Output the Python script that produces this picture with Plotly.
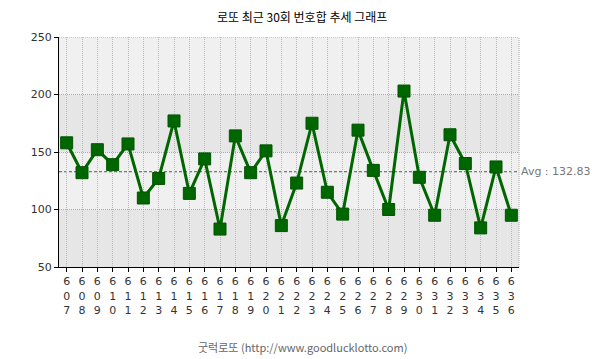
import plotly.graph_objects as go

rounds = [str(r) for r in range(607, 637)]
sums = [158, 132, 152, 139, 157, 110, 127, 177, 114, 144, 83, 164, 132, 151, 86,
        123, 175, 115, 96, 169, 134, 100, 203, 128, 95, 165, 140, 84, 137, 95]
avg = sum(sums) / len(sums)
title = "로또 최근 30회 번호합 추세 그래프"
footer = "굿럭로또 (http://www.goodlucklotto.com)"
yticks = [50, 100, 150, 200, 250]

xs = list(range(len(rounds)))
ticktext = ["<br>".join(list(r)) for r in rounds]

fig = go.Figure()
fig.add_trace(go.Scatter(
    x=xs, y=sums, mode="lines+markers",
    line=dict(color="#006600", width=3),
    marker=dict(symbol="square", size=12, color="#006600", line=dict(color="#005500", width=1)),
    hoverinfo="skip", showlegend=False,
))

shapes = []
band_colors = ["#e6e6e6", "#f0f0f0", "#e6e6e6", "#f0f0f0"]
for i in range(4):
    shapes.append(dict(type="rect", xref="paper", yref="y", x0=0, x1=1,
                       y0=yticks[i], y1=yticks[i + 1], fillcolor=band_colors[i],
                       line=dict(width=0), layer="below"))
shapes.append(dict(type="line", xref="paper", yref="y", x0=0, x1=1, y0=250, y1=250,
                   line=dict(color="#aaaaaa", width=1, dash="1px,1px")))
shapes.append(dict(type="line", xref="paper", yref="paper", x0=1, x1=1, y0=0, y1=1,
                   line=dict(color="#aaaaaa", width=1, dash="1px,1px")))
shapes.append(dict(type="line", xref="paper", yref="y", x0=0, x1=1, y0=avg, y1=avg,
                   line=dict(color="#555555", width=1, dash="3px,2px"), layer="below"))

fig.update_layout(
    width=605, height=359,
    margin=dict(l=59, r=86, t=37, b=92),
    paper_bgcolor="white", plot_bgcolor="white",
    font=dict(family="DejaVu Sans, Noto Sans CJK KR", size=11, color="#333333"),
    shapes=shapes,
    xaxis=dict(
        range=[-0.5, 29.5], tickmode="array", tickvals=xs, ticktext=ticktext,
        showgrid=True, gridcolor="#b8b8b8", griddash="1px,1px", gridwidth=1,
        showline=True, linecolor="black", linewidth=1,
        ticks="outside", ticklen=4, tickcolor="black", automargin=False,
        tickfont=dict(size=11, color="#333333"), zeroline=False, layer="below traces",
    ),
    yaxis=dict(
        range=[50, 250], tickmode="array", tickvals=yticks,
        showgrid=True, gridcolor="#aaaaaa", griddash="1px,1px", gridwidth=1,
        showline=True, linecolor="black", linewidth=1,
        ticks="outside", ticklen=4, tickcolor="black", automargin=False,
        tickfont=dict(size=11, color="#333333"), zeroline=False,
    ),
    annotations=[
        dict(text=title, xref="paper", yref="paper", x=(302 - 59) / 460, y=1,
             yshift=21, showarrow=False, xanchor="center", yanchor="middle",
             font=dict(family="Noto Sans CJK KR", size=12, color="#000000")),
        dict(text=footer, xref="paper", yref="paper", x=(302 - 59) / 460, y=0,
             yshift=-80, showarrow=False, xanchor="center", yanchor="middle",
             font=dict(family="Noto Sans CJK KR", size=11, color="#666666")),
        dict(text="Avg : " + f"{avg:.2f}", xref="paper", yref="y", x=1, y=avg,
             xanchor="left", yanchor="middle", showarrow=False, xshift=0,
             font=dict(size=11, color="#777777")),
    ],
)

fig.write_html("out.html", config={"displayModeBar": False},
               post_script="document.body.style.margin='0';")
